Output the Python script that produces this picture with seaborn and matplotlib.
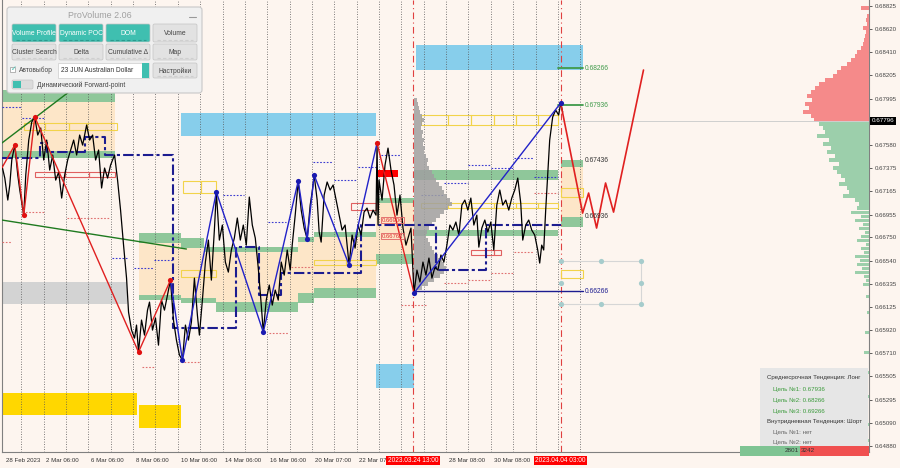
import numpy as np
import pandas as pd
import matplotlib
matplotlib.use("Agg")
import matplotlib.pyplot as plt
from matplotlib.patches import Rectangle, FancyBboxPatch
from matplotlib.transforms import ScaledTranslation
import seaborn as sns

sns.set_theme(style="white")
plt.rcParams['font.family'] = ['Liberation Sans', 'DejaVu Sans']

# ---- данные: цена (номер бара, закрытие) ----
bars = [0, 3, 6, 8, 10, 13, 16, 18, 22, 24, 27, 30, 33, 36, 39, 42, 45, 48, 51, 54,
        57, 60, 63, 66, 69, 72, 75, 78, 81, 85, 88, 91, 94, 97, 100, 103, 106, 109, 113, 116,
        119, 122, 125, 127, 130, 133, 135, 137, 140, 143, 146, 148, 151, 154, 157, 160, 163, 166, 169, 172,
        175, 178, 181, 184, 187, 190, 193, 196, 198, 201, 204, 207, 210, 213, 215, 218, 221, 224, 227, 230,
        233, 236, 239, 242, 245, 248, 251, 254, 257, 260, 262, 265, 268, 271, 274, 277, 280, 283, 286, 289,
        291, 294, 297, 300, 303, 306, 309, 311, 313, 316, 318, 320, 323, 326, 329, 332, 335, 338, 341, 344,
        348, 351, 354, 357, 360, 363, 366, 369, 372, 375, 376, 377, 378, 381, 384, 387, 390, 393, 396, 399,
        402, 405, 408, 410, 413, 416, 419, 422, 425, 428, 431, 434, 437, 440, 443, 446, 449, 452, 455, 458,
        461, 464, 467, 470, 473, 476, 478, 481, 484, 487, 490, 493, 496, 499, 502, 505, 508, 511, 514, 517,
        520, 522, 525, 528, 531, 534, 537, 539, 541, 543, 545, 547, 549, 552, 555, 558, 560, 562]
closes = [0.67399, 0.67282, 0.67085, 0.67220, 0.67444, 0.67578, 0.67309, 0.67175, 0.66950, 0.67309,
          0.67623, 0.67785, 0.67830, 0.67668, 0.67731, 0.67444, 0.67623, 0.67354, 0.67489, 0.67264,
          0.67336, 0.67103, 0.67309, 0.67444, 0.67534, 0.67623, 0.67489, 0.67668, 0.67578, 0.67758,
          0.67623, 0.67668, 0.67444, 0.67534, 0.67193, 0.67372, 0.67282, 0.67399, 0.67489, 0.67264,
          0.66995, 0.66681, 0.66385, 0.66080, 0.65919, 0.65847, 0.65964, 0.65722, 0.66009, 0.65874,
          0.66098, 0.66170, 0.65919, 0.66027, 0.65784, 0.66188, 0.66098, 0.66233, 0.66367, 0.66009,
          0.65829, 0.65695, 0.65650, 0.65964, 0.65829, 0.65991, 0.66385, 0.66053, 0.65874, 0.66188,
          0.66529, 0.66726, 0.66367, 0.66816, 0.67157, 0.66726, 0.66861, 0.66529, 0.66439, 0.66637,
          0.66744, 0.66924, 0.66726, 0.66861, 0.66681, 0.67112, 0.66861, 0.66744, 0.66475, 0.66143,
          0.65901, 0.66188, 0.66323, 0.66143, 0.66278, 0.66188, 0.66529, 0.66412, 0.66637, 0.66457,
          0.66681, 0.66950, 0.67255, 0.66995, 0.66834, 0.66735, 0.67040, 0.67157, 0.67309, 0.67085,
          0.66798, 0.66708, 0.67130, 0.67247, 0.67175, 0.67220, 0.67085, 0.66950, 0.66816, 0.66861,
          0.66502, 0.66771, 0.66654, 0.66861, 0.66771, 0.66977, 0.67013, 0.66924, 0.66995, 0.66950,
          0.67596, 0.66861, 0.67264, 0.67085, 0.67399, 0.67551, 0.67354, 0.67220, 0.66950, 0.67130,
          0.66834, 0.66681, 0.66771, 0.66834, 0.66251, 0.66457, 0.66350, 0.66529, 0.66412, 0.66565,
          0.66385, 0.66484, 0.66457, 0.66592, 0.66529, 0.66681, 0.66861, 0.66816, 0.66888, 0.66771,
          0.67040, 0.67085, 0.66995, 0.67103, 0.66861, 0.66950, 0.66663, 0.66834, 0.66906, 0.66798,
          0.66888, 0.66637, 0.67040, 0.67175, 0.67040, 0.67085, 0.66995, 0.67103, 0.67175, 0.67282,
          0.67058, 0.66726, 0.66861, 0.66906, 0.66816, 0.66771, 0.66637, 0.66520, 0.66681, 0.66637,
          0.66995, 0.67309, 0.67623, 0.67830, 0.67892, 0.67847, 0.67955, 0.67874]

# зигзаги
red_zz_bars = [0, 13, 22, 33, 137, 169]
red_zz = [0.67372, 0.67578, 0.66950, 0.67830, 0.65722, 0.66367]
blue_zz_bars = [169, 181, 215, 262, 297, 306, 313, 348, 376]
blue_zz = [0.66367, 0.65650, 0.67157, 0.65901, 0.67255, 0.66735, 0.67309, 0.66502, 0.67596]
red_zz2_bars = [376, 413]
red_zz2 = [0.67596, 0.66251]
blue_zz2_bars = [413, 560]
blue_zz2 = [0.66251, 0.67955]
forecast_bars = [560, 582, 588, 596, 605, 613, 643]
forecast = [0.67955, 0.66968, 0.67148, 0.66834, 0.67238, 0.66977, 0.68251]
red_dot_bars = [13, 22, 33, 137, 169, 376]
red_dots = [0.67578, 0.66950, 0.67830, 0.65722, 0.66367, 0.67596]
blue_dot_bars = [181, 215, 262, 297, 306, 313, 348, 413, 560]
blue_dots = [0.65650, 0.67157, 0.65901, 0.67255, 0.66735, 0.67309, 0.66502, 0.66251, 0.67955]

# динамический POC
poc_bars = [0, 38, 45, 83, 103, 172, 235, 258, 280, 360, 435, 485, 560]
poc = [0.67462, 0.67596, 0.67516, 0.67650, 0.67489, 0.65937, 0.66663, 0.66233, 0.66430,
       0.66861, 0.66457, 0.66861, 0.66861]

# трендовые линии
trend1_bars = [0, 110]
trend1 = [0.67596, 0.68346]
trend2_bars = [0, 185]
trend2 = [0.66906, 0.66646]

# зоны (начало, конец, низ, верх)
green_zones = [(0, 113, 0.67964, 0.68072), (0, 113, 0.67462, 0.67525),
               (137, 180, 0.66699, 0.66789), (180, 203, 0.66654, 0.66744), (203, 297, 0.66619, 0.66663),
               (297, 313, 0.66708, 0.66753), (313, 375, 0.66753, 0.66798), (375, 413, 0.67058, 0.67103),
               (413, 557, 0.67264, 0.67354), (560, 582, 0.67381, 0.67444),
               (137, 180, 0.66188, 0.66233), (180, 215, 0.66161, 0.66206), (215, 297, 0.66080, 0.66170),
               (297, 313, 0.66161, 0.66251), (313, 375, 0.66206, 0.66296), (375, 413, 0.66511, 0.66601),
               (413, 557, 0.66762, 0.66816), (560, 582, 0.66843, 0.66933)]
peach_zones = [(0, 113, 0.67525, 0.67964), (137, 180, 0.66233, 0.66699), (180, 203, 0.66206, 0.66654),
               (203, 215, 0.66206, 0.66619), (215, 297, 0.66170, 0.66619), (297, 313, 0.66251, 0.66708),
               (313, 375, 0.66296, 0.66753), (375, 413, 0.66601, 0.67058), (560, 582, 0.66933, 0.67381)]
blue_zones = [(180, 375, 0.67659, 0.67865), (415, 582, 0.68251, 0.68475), (375, 413, 0.65399, 0.65614)]
gold_zones = [(0, 135, 0.65156, 0.65354), (137, 180, 0.65040, 0.65246)]
gray_zones = [(0, 125, 0.66152, 0.66349)]
red_zones = [(377, 397, 0.67291, 0.67354)]
yellow_boxes = [(22, 43, 0.67713, 0.67776), (43, 67, 0.67713, 0.67776), (67, 85, 0.67713, 0.67776),
                (85, 115, 0.67713, 0.67776), (182, 200, 0.67148, 0.67255), (200, 215, 0.67148, 0.67255),
                (180, 198, 0.66394, 0.66457), (198, 215, 0.66394, 0.66457), (313, 345, 0.66502, 0.66547),
                (345, 375, 0.66502, 0.66547),
                (420, 447, 0.67758, 0.67847), (447, 470, 0.67758, 0.67847), (470, 493, 0.67758, 0.67847),
                (493, 515, 0.67758, 0.67847), (515, 537, 0.67758, 0.67847), (537, 557, 0.67758, 0.67847),
                (420, 447, 0.67013, 0.67058), (447, 470, 0.67013, 0.67058), (470, 493, 0.67013, 0.67058),
                (493, 515, 0.67013, 0.67058), (515, 537, 0.67013, 0.67058), (537, 557, 0.67013, 0.67058),
                (560, 582, 0.67112, 0.67193), (560, 582, 0.66385, 0.66457)]
red_boxes = [(33, 63, 0.67291, 0.67336), (63, 87, 0.67291, 0.67336), (87, 113, 0.67291, 0.67336),
             (350, 375, 0.66995, 0.67058), (470, 493, 0.66592, 0.66637), (493, 500, 0.66592, 0.66637)]
navy_levels = [(0, 20, 0.67919), (20, 42, 0.67821), (110, 125, 0.66565), (132, 153, 0.66475),
               (153, 173, 0.66547), (222, 243, 0.67130), (267, 285, 0.66888), (312, 332, 0.67426),
               (333, 355, 0.67264), (357, 377, 0.67381), (380, 400, 0.67489), (420, 443, 0.67130),
               (443, 467, 0.67237), (467, 490, 0.67399), (490, 513, 0.67372), (513, 533, 0.67462),
               (533, 557, 0.67291)]
red_levels = [(0, 10, 0.66708), (20, 42, 0.66977), (65, 108, 0.66924), (140, 153, 0.65587),
              (183, 198, 0.65632), (268, 288, 0.65892), (290, 312, 0.66484), (400, 425, 0.66143),
              (443, 467, 0.66340), (467, 490, 0.66367), (490, 513, 0.66430), (513, 533, 0.66619),
              (533, 557, 0.67148)]

# профиль объёма сессии (от бара 413) и общий профиль справа
prof_top, prof_step = 0.67982, 0.000359
prof_vol = [3, 4, 5, 6, 8, 10, 8, 7, 9, 8, 10, 9, 11, 10, 12, 14, 13, 15, 18, 20,
            22, 25, 28, 30, 33, 36, 38, 34, 30, 26, 22, 18, 15, 13, 12, 14, 16, 18, 20, 24,
            28, 30, 32, 30, 26, 20, 14, 8, 3]
mp_top = 0.68807
mp_vol = [8, 0, 2, 3, 2, 6, 3, 4, 5, 6, 8, 12, 14, 18, 22, 28, 32, 36, 44, 50,
          54, 58, 62, 57, 64, 60, 66, 58, 55, 50, 46, 44, 52, 40, 46, 38, 42, 34, 40, 30,
          36, 32, 28, 24, 30, 22, 20, 26, 14, 10, 12, 18, 8, 14, 6, 10, 4, 8, 12, 3,
          8, 5, 14, 9, 12, 7, 14, 5, 3, 6, 0, 0, 3, 0, 0, 0, 2, 0, 0, 0,
          0, 4, 0, 0, 0, 0, 5, 0, 0, 0, 0, 3, 0, 0, 0, 0, 0, 4, 0, 0,
          0, 0, 0, 0, 2, 0, 0, 0, 6]
last_price = 0.67796

price_ticks = [0.68825, 0.68620, 0.68410, 0.68205, 0.67995, 0.67580, 0.67375, 0.67165, 0.66955,
               0.66750, 0.66540, 0.66335, 0.66125, 0.65920, 0.65710, 0.65505, 0.65295, 0.65090, 0.64880]
date_ticks = [1.5, 42.0, 86.8, 131.6, 176.4, 221.2, 266.0, 310.8, 355.6, 445.2, 490.0]
date_labels = ['28 Feb 2023', '2 Mar 06:00', '6 Mar 06:00', '8 Mar 06:00', '10 Mar 06:00',
               '14 Mar 06:00', '16 Mar 06:00', '20 Mar 07:00', '22 Mar 07:00', '28 Mar 08:00',
               '30 Mar 08:00']
marked_bars = [412, 560]
marked_labels = ['2023.03.24 13:00', '2023.04.04 03:00']

targets = [0.68266, 0.67936]
level_labels = ['0.68266', '0.67936', '0.67436', '0.66936', '0.66266']
level_prices = [0.68266, 0.67936, 0.67436, 0.66936, 0.66266]
delta_buy, delta_sell = 2801, 3242

# ---- рисование ----
BG = '#fdf5ef'
fig = plt.figure(figsize=(9, 4.68), dpi=100, facecolor=BG)
ax = fig.add_axes([0.002, 0.034, 0.9636, 0.966])
ax.set_facecolor(BG)


def boxes(spans, **kw):
    for x0, x1, lo, hi in spans:
        ax.add_patch(Rectangle((x0, lo), x1 - x0, hi - lo, **kw))


boxes(peach_zones, fc='#fde6c8', ec='none', zorder=1)
boxes(green_zones, fc='#8fc79a', ec='none', zorder=2)
boxes(blue_zones, fc='#87ceeb', ec='none', zorder=2)
boxes(gold_zones, fc='#ffd700', ec='none', zorder=2)
boxes(gray_zones, fc='#d3d3d3', ec='none', zorder=2)
boxes(red_zones, fc='#ff0000', ec='none', zorder=5)
boxes(yellow_boxes, fc='none', ec='#f2d34a', lw=0.8, zorder=3)
boxes(red_boxes, fc='none', ec='#e06060', lw=0.8, zorder=3)

# сетка
grid_x = np.arange(19.6, 585, 22.4)
for gx in grid_x:
    ax.axvline(gx, color='#555555', lw=0.6, ls=(0, (1, 2)), zorder=2.5)
for mx in marked_bars:
    ax.axvline(mx, color='#e04040', lw=0.8, ls=(0, (6, 3, 1, 3)), zorder=2.6)

for x0, x1, p in navy_levels:
    ax.plot([x0, x1], [p, p], color='#3a3ad0', lw=0.8, ls=(0, (1.5, 1.5)), zorder=3)
for x0, x1, p in red_levels:
    ax.plot([x0, x1], [p, p], color='#e07070', lw=0.8, ls=(0, (1.5, 1.5)), zorder=3)

# профиль сессии
prof_lv = prof_top - prof_step * np.arange(len(prof_vol))
ax.barh(prof_lv, prof_vol, height=prof_step, left=413, color='#a0a0a0', alpha=0.85,
        linewidth=0, zorder=3)
# общий профиль справа
mp_lv = mp_top - prof_step * np.arange(len(mp_vol))
mp_col = ['#f58a8a' if p > last_price else '#9ccfab' for p in mp_lv]
ax.barh(mp_lv, [-v for v in mp_vol], height=prof_step * 0.85, left=869, color=mp_col,
        linewidth=0, zorder=3)

ax.plot([560, 869], [last_price, last_price], color='#cfcfcf', lw=0.7, zorder=3)

# POC
ax.step(poc_bars, poc, where='post', color='#1c1c90', lw=1.5, ls=(0, (5, 1.5, 1.5, 1.5)), zorder=4)
ax.plot([413, 582], [0.66266, 0.66266], color='#1c1c90', lw=1.0, zorder=4)
for t in targets:
    ax.plot([557, 582], [t, t], color='#3f9a4a', lw=1.3, zorder=4)

sns.lineplot(x=trend1_bars, y=trend1, color='#1f7a1f', lw=1.0, ax=ax, zorder=4)
sns.lineplot(x=trend2_bars, y=trend2, color='#1f7a1f', lw=1.0, ax=ax, zorder=4)

price_df = pd.DataFrame({'bar': bars, 'close': closes})
sns.lineplot(data=price_df, x='bar', y='close', color='black', lw=0.9, sort=False,
             estimator=None, ax=ax, zorder=5)

sns.lineplot(x=red_zz_bars, y=red_zz, color='#e02020', lw=1.0, sort=False, estimator=None, ax=ax, zorder=6)
sns.lineplot(x=red_zz2_bars, y=red_zz2, color='#e02020', lw=1.0, sort=False, estimator=None, ax=ax, zorder=6)
sns.lineplot(x=blue_zz_bars, y=blue_zz, color='#2222c8', lw=1.0, sort=False, estimator=None, ax=ax, zorder=6)
sns.lineplot(x=blue_zz2_bars, y=blue_zz2, color='#2222c8', lw=1.0, sort=False, estimator=None, ax=ax, zorder=6)
sns.lineplot(x=forecast_bars, y=forecast, color='#e02020', lw=1.2, sort=False, estimator=None, ax=ax, zorder=6)
sns.scatterplot(x=red_dot_bars, y=red_dots, color='#e01010', s=14, linewidth=0, ax=ax, zorder=7)
sns.scatterplot(x=blue_dot_bars, y=blue_dots, color='#1a1ab0', s=14, linewidth=0, ax=ax, zorder=7)

# сетка проекций справа
for p in [0.66538, 0.66152]:
    ax.plot([560, 640], [p, p], color='#d6d6d6', lw=0.8, zorder=3)
ax.plot([640, 640], [0.66152, 0.66538], color='#d6d6d6', lw=0.8, zorder=3)
sns.scatterplot(x=[560, 600, 640, 560, 640, 560, 600, 640],
                y=[0.66538, 0.66538, 0.66538, 0.66340, 0.66340, 0.66152, 0.66152, 0.66152],
                color='#a6cccc', s=14, linewidth=0, ax=ax, zorder=7)

lvl_col = ['#3f9a4a', '#3f9a4a', '#333333', '#333333', '#1c1c90']
for lab, p, c in zip(level_labels, level_prices, lvl_col):
    ax.text(584, p, lab, fontsize=4.8, color=c, va='center', ha='left', zorder=8)

# подписи уровней внутри графика
ax.text(381, 0.66906, '0.66906', fontsize=4.3, color='#e03030', va='center', zorder=8,
        bbox=dict(fc='none', ec='#e06060', lw=0.6, pad=0.6))
ax.text(381, 0.66762, '0.66762', fontsize=4.3, color='#e03030', va='center', zorder=8,
        bbox=dict(fc='none', ec='#e06060', lw=0.6, pad=0.6))

ax.set_xlim(0, 869)
ax.set_ylim(0.64825, 0.68879)
ax.set_xlabel('')
ax.set_ylabel('')

ax.yaxis.tick_right()
ax.set_yticks(price_ticks, [f'{v:.5f}' for v in price_ticks])
ax.tick_params(axis='y', labelsize=4.4, colors='#444444', length=2.5, width=0.6, pad=1.5, direction='out')
ax.set_xticks(date_ticks, date_labels)
ax.set_xticks(grid_x, minor=True)
ax.tick_params(axis='x', which='both', labelsize=4.4, colors='#333333', length=3, width=0.6, pad=1.5,
               direction='out')
ax.tick_params(axis='x', which='minor', length=2)
for lbl in ax.get_xticklabels():
    lbl.set_horizontalalignment('left')
    lbl.set_transform(lbl.get_transform() + ScaledTranslation(2 / 72, 0, fig.dpi_scale_trans))
for s in ['left', 'bottom', 'right']:
    ax.spines[s].set_color('#808080')
    ax.spines[s].set_linewidth(0.8)
ax.spines['top'].set_visible(False)

for mx, lab in zip(marked_bars, marked_labels):
    ax.text(mx, -0.011, lab, transform=ax.get_xaxis_transform(), fontsize=4.7, color='white',
            ha='center', va='top', zorder=9, clip_on=False,
            bbox=dict(fc='#ff0000', ec='none', pad=1.0))
ax.text(1.003, last_price, f'{last_price:.5f}', transform=ax.get_yaxis_transform(), fontsize=4.5,
        color='white', ha='left', va='center', clip_on=False, zorder=9,
        bbox=dict(fc='black', ec='none', pad=1.0))

# ---- панель и инфо-блок (пиксели) ----
ov = fig.add_axes([0, 0, 1, 1], zorder=10)
ov.set_xlim(0, 900)
ov.set_ylim(468, 0)
ov.axis('off')
ov.patch.set_alpha(0)

ov.add_patch(FancyBboxPatch((7, 7), 195, 86, boxstyle='round,pad=0,rounding_size=3',
                            fc='#f0f0f0', ec='#c8c8c8', lw=0.8))
ov.text(100, 15, 'ProVolume 2.06', fontsize=6.4, color='#a0a0a0', ha='center', va='center')
ov.plot([189, 196], [17, 17], color='#999999', lw=0.8)
buttons = [('Volume Profile', 12, 24, 44, 18, True), ('Dynamic POC', 59, 24, 44, 18, True),
           ('DOM', 106, 24, 44, 18, True), ('Volume', 153, 24, 44, 18, False),
           ('Cluster Search', 12, 44, 44, 16, False), ('Delta', 59, 44, 44, 16, False),
           ('Cumulative Δ', 106, 44, 44, 16, False), ('Map', 153, 44, 44, 16, False),
           ('Настройки', 153, 63, 44, 15, False)]
for lab, bx, by, bw, bh, teal in buttons:
    ov.add_patch(FancyBboxPatch((bx, by), bw, bh, boxstyle='round,pad=0,rounding_size=1.5',
                                fc='#3fbfb0' if teal else '#e2e2e2', ec='#c4c4c4', lw=0.5))
    ov.text(bx + bw / 2, by + bh / 2 + 0.5, lab, fontsize=4.9, ha='center', va='center',
            color='white' if teal else '#444444')
    ov.plot([bx + 4, bx + bw - 4], [by + bh - 2.5, by + bh - 2.5],
            color='#2a9a8e' if teal else '#cfcfcf', lw=0.8, ls=(0, (3, 2)))
ov.add_patch(Rectangle((10, 67), 5, 5, fc='white', ec='#999999', lw=0.5))
ov.text(10.5, 69.5, '✓', fontsize=5, color='#3fbfb0', va='center', family='DejaVu Sans')
ov.text(19, 70, 'Автовыбор', fontsize=4.8, color='#444444', va='center')
ov.add_patch(Rectangle((58, 63), 91, 15, fc='white', ec='#cccccc', lw=0.5))
ov.add_patch(Rectangle((142, 63), 7, 15, fc='#3fbfb0', ec='none'))
ov.text(61, 70.5, '23 JUN Australian Dollar', fontsize=4.8, color='#333333', va='center')
ov.add_patch(FancyBboxPatch((12, 80), 21, 9, boxstyle='round,pad=0,rounding_size=1.5',
                            fc='#dcdcdc', ec='#c4c4c4', lw=0.5))
ov.add_patch(Rectangle((13, 81), 8, 7, fc='#3fbfb0', ec='none'))
ov.text(37, 85, 'Динамический Forward-point', fontsize=4.8, color='#444444', va='center')

ov.add_patch(Rectangle((760, 368), 108, 78, fc='#e6e6e6', ec='none'))
info = [('Среднесрочная Тенденция: Лонг', 767, 378, '#333333'),
        ('Цель №1: 0.67936', 773, 389, '#3a9a3a'),
        ('Цель №2: 0.68266', 773, 400, '#3a9a3a'),
        ('Цель №3: 0.69266', 773, 411, '#3a9a3a'),
        ('Внутридневная Тенденция: Шорт', 767, 421, '#333333'),
        ('Цель №1: нет', 773, 432, '#666666'),
        ('Цель №2: нет', 773, 442, '#666666')]
for txt, tx, ty, c in info:
    ov.text(tx, ty, txt, fontsize=4.4, color=c, va='center')

bar_w = 129
g_w = bar_w * delta_buy / (delta_buy + delta_sell)
ov.add_patch(Rectangle((740, 446), g_w, 10, fc='#7fc493', ec='none'))
ov.add_patch(Rectangle((740 + g_w, 446), bar_w - g_w, 10, fc='#f05050', ec='none'))
ov.text(740 + g_w - 1, 451, str(delta_buy), fontsize=4.6, color='#333333', ha='right', va='center')
ov.text(740 + g_w + 1, 451, str(delta_sell), fontsize=4.6, color='#333333', ha='left', va='center')

fig.savefig('out.png', dpi=100, facecolor=BG)
